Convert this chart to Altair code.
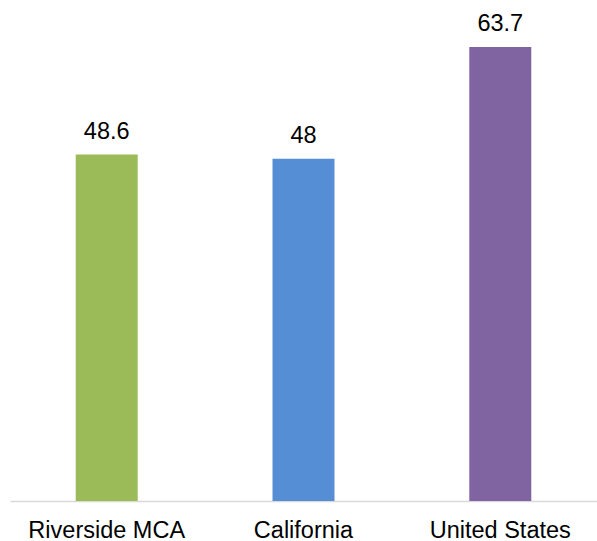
import altair as alt
import pandas as pd

# Values shown above each bar
regions = ["Riverside MCA", "California", "United States"]
values = [48.6, 48.0, 63.7]
labels = ["48.6", "48", "63.7"]
colors = ["#9BBB59", "#558ED5", "#8064A2"]

df = pd.DataFrame({"region": regions, "value": values, "label": labels})

FONT = "Liberation Sans, Arial, sans-serif"

x = alt.X(
    "region:N",
    sort=regions,
    title=None,
    scale=alt.Scale(paddingInner=0.685, paddingOuter=0.334),
    axis=alt.Axis(
        labelAngle=0,
        labelFont=FONT,
        labelFontSize=23.5,
        labelColor="#000000",
        labelPadding=17,
        ticks=False,
        domainColor="#D9D9D9",
        domainWidth=1.5,
        grid=False,
    ),
)
y = alt.Y(
    "value:Q",
    scale=alt.Scale(domain=[0, 70], nice=False),
    axis=None,
)

bars = alt.Chart(df).mark_bar().encode(
    x=x,
    y=y,
    color=alt.Color("region:N", scale=alt.Scale(domain=regions, range=colors), legend=None),
)

text = alt.Chart(df).mark_text(
    font=FONT, fontSize=23.5, color="#000000", baseline="alphabetic", dy=-16
).encode(x=x, y=y, text="label:N")

chart = (
    alt.layer(bars, text)
    .properties(
        width=587,
        height=499,
        padding={"left": 10, "top": 2, "right": 0, "bottom": 40},
        autosize=alt.AutoSizeParams(type="none"),
        view=alt.ViewBackground(strokeWidth=0, strokeOpacity=0),
    )
    .configure_view(strokeWidth=0, strokeOpacity=0)
    .configure_axisY(domain=False, grid=False, ticks=False, labels=False)
    .configure(background="white")
)

chart.save("out.html", embed_options={"renderer": "svg", "actions": False})
